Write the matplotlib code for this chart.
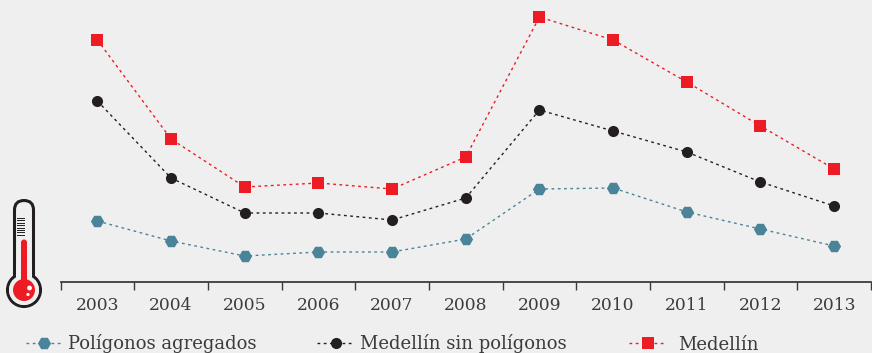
import matplotlib
matplotlib.use("Agg")
import matplotlib.pyplot as plt
from matplotlib.patches import FancyBboxPatch, Circle, Rectangle
from matplotlib.ticker import FixedLocator, NullLocator

years = ["2003","2004","2005","2006","2007","2008","2009","2010","2011","2012","2013"]
poligonos = [61,41,26,30,30,43,93,94,70,53,36]
sin_poligonos = [181,104,69,69,62,84,172,151,130,100,76]
medellin = [242,143,95,99,93,125,265,242,200,156,113]

BG = "#efefef"; TXT = "#3c3a3a"; FONT = "DejaVu Serif"
W, H = 872, 353
fig = plt.figure(figsize=(W/100, H/100), dpi=100, facecolor=BG)
ax = fig.add_axes([60.5/W, 1-282/H, (871-60.5)/W, 282/H], facecolor="none")
x = list(range(len(years)))
l1, = ax.plot(x, poligonos, ls=(0,(2,2.5)), lw=1, color="#4a8499", marker="H", ms=9.5, mew=0, label="Polígonos agregados")
l2, = ax.plot(x, sin_poligonos, ls=(0,(2,2.5)), lw=1, color="#231f20", marker="o", ms=8, mew=0, label="Medellín sin polígonos")
l3, = ax.plot(x, medellin, ls=(0,(2,2.5)), lw=1, color="#ed1c24", marker="s", ms=8, mew=0, label="Medellín")
ax.set_xlim(-0.5, 10.5); ax.set_ylim(0, 282)
for s in ("top","left","right"): ax.spines[s].set_visible(False)
ax.spines["bottom"].set_color("#3c3a3a"); ax.spines["bottom"].set_linewidth(1.3)
ax.yaxis.set_major_locator(NullLocator())
ax.set_xticks(x); ax.set_xticklabels(years, fontsize=12.3, color=TXT, family=FONT)
ax.xaxis.set_minor_locator(FixedLocator([i-0.5 for i in range(12)]))
ax.tick_params(axis="x", which="major", length=0, pad=10.5)
ax.tick_params(axis="x", which="minor", length=5.5, width=1, color="#3c3a3a", direction="out")

def leg(h, px, py, hl, pad):
    return fig.legend(handles=[h], loc="center left", bbox_to_anchor=(px/W, 1-py/H), frameon=False,
        prop={"family":FONT,"size":13}, labelcolor=TXT, handlelength=hl, handletextpad=pad,
        borderpad=0, borderaxespad=0)
leg(l1, 26, 343.5, 2.0, 0.33); leg(l2, 317, 343.5, 2.05, 0.33); leg(l3, 629, 344.5, 2.05, 0.67)

# thermometer decoration in pixel coordinates
o = fig.add_axes([0,0,1,1], facecolor="none"); o.set_xlim(0,W); o.set_ylim(H,0); o.axis("off")
dark = "#231f20"; red = "#ed1c24"
o.add_patch(Circle((24,290), 16.5, fc=BG, ec=dark, lw=2.2, zorder=1))
o.add_patch(FancyBboxPatch((14.5,200.5),19,86.5, boxstyle="round,pad=0,rounding_size=9.5", fc=BG, ec=dark, lw=2.2, zorder=2))
o.add_patch(Rectangle((16,262),16,23, fc=BG, ec="none", zorder=3))
o.add_patch(Circle((24,290), 15, fc=BG, ec="none", zorder=3))
o.add_patch(Circle((24,290), 11, fc=red, ec="none", zorder=4))
o.add_patch(FancyBboxPatch((21,239.5),6,45, boxstyle="round,pad=0,rounding_size=3", fc=red, ec="none", zorder=4))
o.add_patch(Circle((29.5,288), 2.4, fc="white", ec="none", zorder=5))
o.add_patch(Circle((28,294.5), 1.6, fc="white", ec="none", zorder=5))
for k in range(8):
    y = 218 + k*2.4
    o.plot([17,24],[y,y], color=dark, lw=0.7, zorder=5)
fig.savefig("out.png", dpi=100, facecolor=BG)
